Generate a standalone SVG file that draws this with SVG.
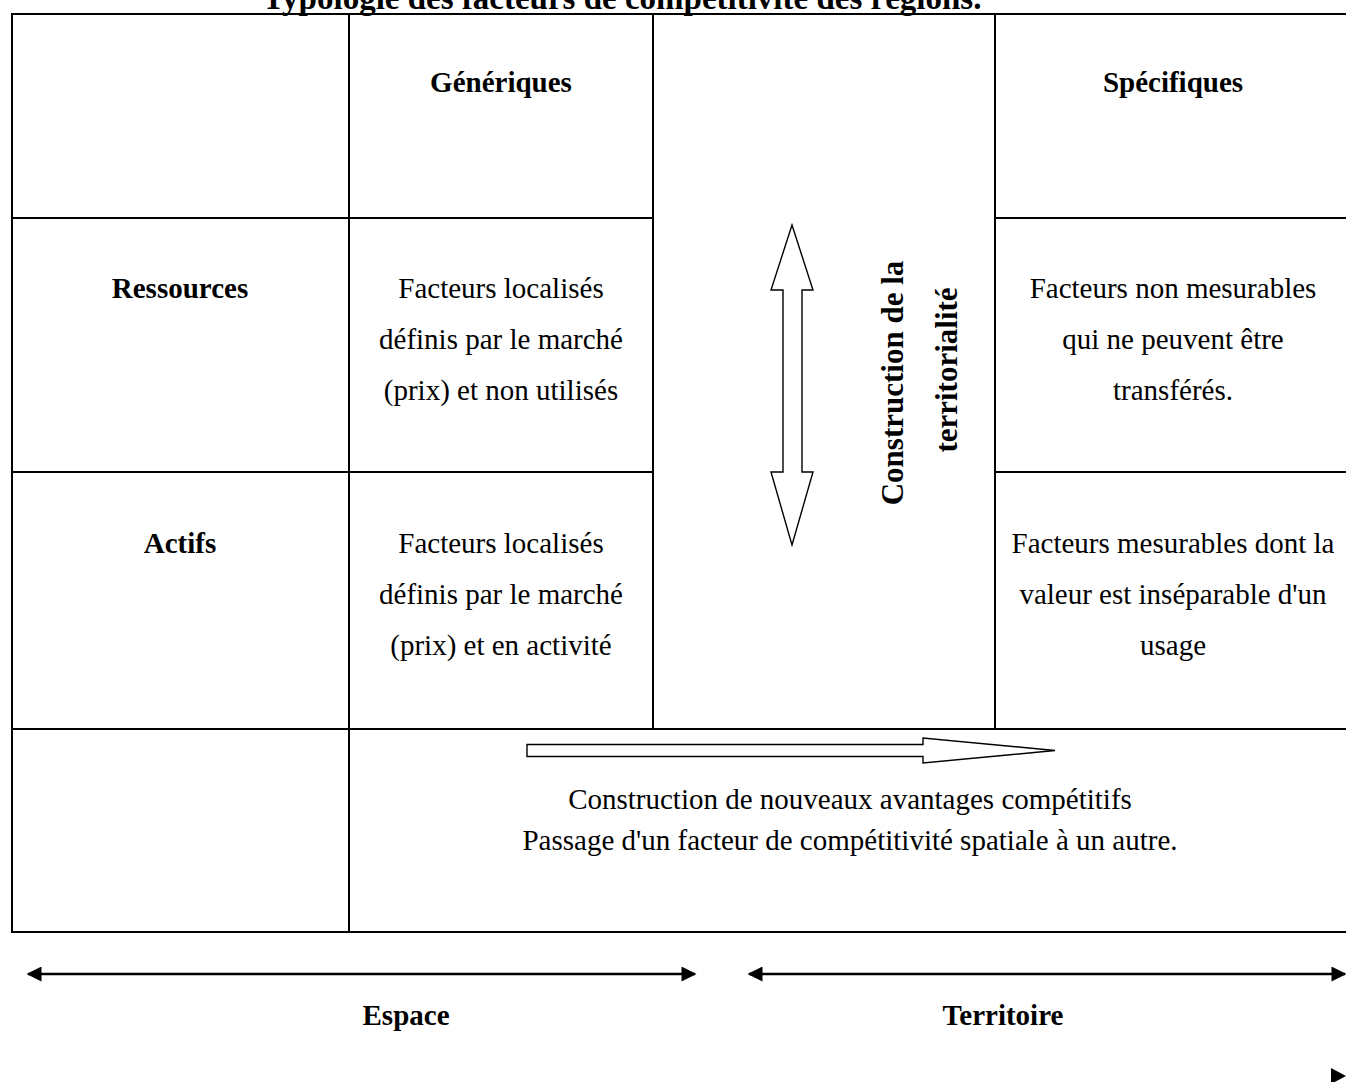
<svg xmlns="http://www.w3.org/2000/svg" width="1346" height="1082" viewBox="0 0 1346 1082">
  <style>
    text { font-family: "Liberation Serif", "Times New Roman", serif; fill: #000; }
    .t { font-size: 29px; text-anchor: middle; }
    .b { font-size: 29px; font-weight: bold; text-anchor: middle; }
    .title { font-size: 33px; font-weight: bold; text-anchor: middle; }
    .vt { font-size: 31px; font-weight: bold; text-anchor: middle; }
    .grid { stroke: #000; stroke-width: 2; fill: none; }
    .block { stroke: #000; stroke-width: 1.4; fill: #fff; stroke-linejoin: miter; }
    .axis { stroke: #000; stroke-width: 2.5; fill: none; }
  </style>
  <defs>
    <marker id="head" viewBox="0 0 10 10" refX="9" refY="5" markerWidth="6.5" markerHeight="6" markerUnits="strokeWidth" orient="auto-start-reverse">
      <path d="M0,0 L10,5 L0,10 Z" fill="#000"/>
    </marker>
  </defs>
  <rect width="1346" height="1082" fill="#fff"/>

  <!-- title, partly above the top edge -->
  <text class="title" x="622" y="9">Typologie des facteurs de compétitivité des régions.</text>

  <!-- table frame and rules -->
  <g id="table" class="grid">
    <rect x="12" y="14" width="1339" height="918"/>
    <line x1="349" y1="14" x2="349" y2="932"/>
    <line x1="653" y1="14" x2="653" y2="729"/>
    <line x1="995" y1="14" x2="995" y2="729"/>
    <line x1="12" y1="218" x2="653" y2="218"/>
    <line x1="995" y1="218" x2="1351" y2="218"/>
    <line x1="12" y1="472" x2="653" y2="472"/>
    <line x1="995" y1="472" x2="1351" y2="472"/>
    <line x1="12" y1="729" x2="1351" y2="729"/>
  </g>

  <g id="head-generiques"><text class="b" x="501" y="92">Génériques</text></g>
  <g id="head-specifiques"><text class="b" x="1173" y="92">Spécifiques</text></g>

  <g id="row-ressources"><text class="b" x="180" y="298">Ressources</text></g>
  <g id="cell-ressources-generiques">
    <text class="t" x="501" y="298">Facteurs localisés</text>
    <text class="t" x="501" y="349">définis par le marché</text>
    <text class="t" x="501" y="400">(prix) et non utilisés</text>
  </g>
  <g id="cell-ressources-specifiques">
    <text class="t" x="1173" y="298">Facteurs non mesurables</text>
    <text class="t" x="1173" y="349">qui ne peuvent être</text>
    <text class="t" x="1173" y="400">transférés.</text>
  </g>

  <g id="row-actifs"><text class="b" x="180" y="553">Actifs</text></g>
  <g id="cell-actifs-generiques">
    <text class="t" x="501" y="553">Facteurs localisés</text>
    <text class="t" x="501" y="604">définis par le marché</text>
    <text class="t" x="501" y="655">(prix) et en activité</text>
  </g>
  <g id="cell-actifs-specifiques">
    <text class="t" x="1173" y="553">Facteurs mesurables dont la</text>
    <text class="t" x="1173" y="604">valeur est inséparable d'un</text>
    <text class="t" x="1173" y="655">usage</text>
  </g>

  <g id="territorialite">
    <text class="vt" transform="translate(903,383) rotate(-90)">Construction de la</text>
    <text class="vt" transform="translate(957,370) rotate(-90)">territorialité</text>
  </g>

  <g id="avantages">
    <text class="t" x="850" y="809">Construction de nouveaux avantages compétitifs</text>
    <text class="t" x="850" y="850">Passage d'un facteur de compétitivité spatiale à un autre.</text>
  </g>

  <g id="espace"><text class="b" x="406" y="1025">Espace</text></g>
  <g id="territoire"><text class="b" x="1003" y="1025">Territoire</text></g>

  <!-- arrows -->
  <g id="connectors">
    <path class="block" d="M792,225 L813,290 L802,290 L802,472 L813,472 L792,545 L771,472 L783,472 L783,290 L771,290 Z"/>
    <path class="block" d="M527,744.5 L923,744.5 L923,738 L1055,750.5 L923,763 L923,756.5 L527,756.5 Z"/>
    <line class="axis" x1="28" y1="974" x2="695" y2="974" marker-start="url(#head)" marker-end="url(#head)"/>
    <line class="axis" x1="749" y1="974" x2="1345" y2="974" marker-start="url(#head)" marker-end="url(#head)"/>
    <path d="M1331,1068 L1346,1076 L1331,1084 Z" fill="#000"/>
  </g>
</svg>
